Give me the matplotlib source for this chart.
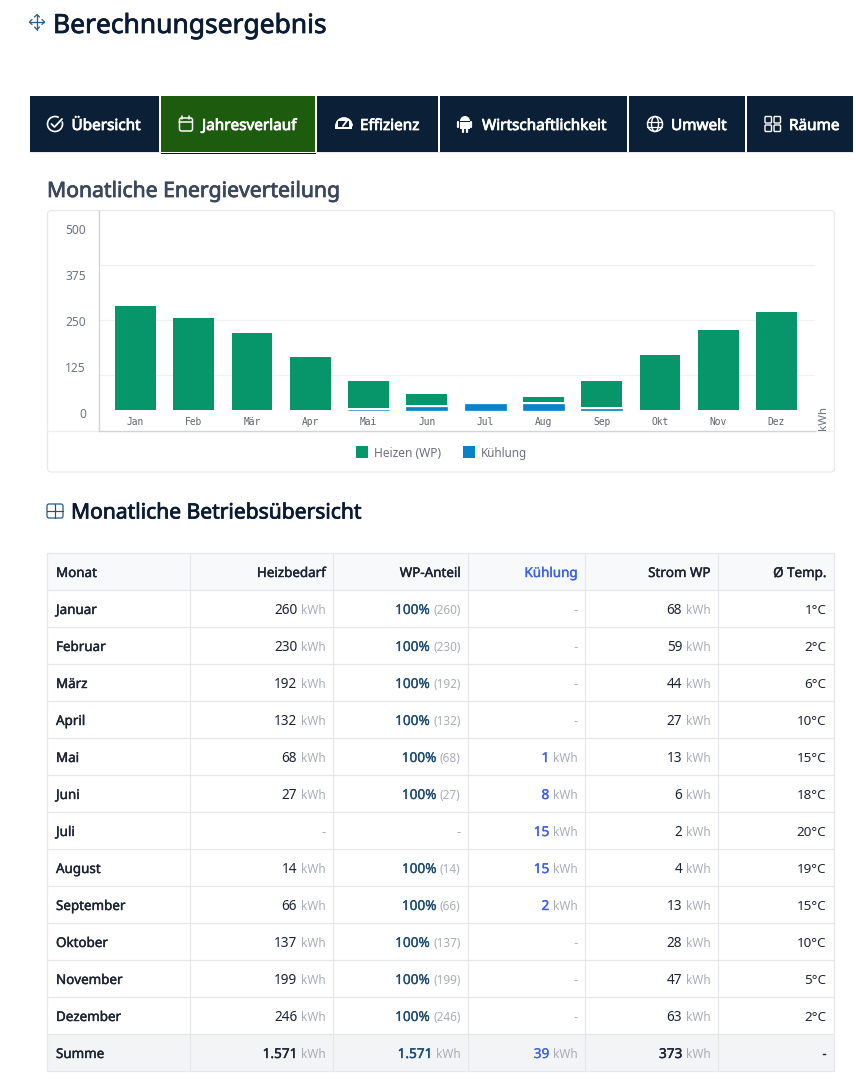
import matplotlib
matplotlib.use("Agg")
import matplotlib.pyplot as plt
import matplotlib.patheffects as pe
from matplotlib.patches import Rectangle, FancyBboxPatch, Circle, Ellipse, Wedge, Arc

W, H = 856, 1079
FONT = "Noto Sans"

month_short = ["Jan", "Feb", "Mär", "Apr", "Mai", "Jun", "Jul", "Aug", "Sep", "Okt", "Nov", "Dez"]
month_long = ["Januar", "Februar", "März", "April", "Mai", "Juni", "Juli", "August", "September",
              "Oktober", "November", "Dezember"]
heizen = [260, 230, 192, 132, 68, 27, 0, 14, 66, 137, 199, 246]
kuehlung = [0, 0, 0, 0, 1, 8, 15, 15, 2, 0, 0, 0]
strom = [68, 59, 44, 27, 13, 6, 2, 4, 13, 28, 47, 63]
temp = [1, 2, 6, 10, 15, 18, 20, 19, 15, 10, 5, 2]
y_labels = ["500", "375", "250", "125", "0"]
headers = ["Monat", "Heizbedarf", "WP-Anteil", "Kühlung", "Strom WP", "Ø Temp."]
tabs = ["Übersicht", "Jahresverlauf", "Effizienz", "Wirtschaftlichkeit", "Umwelt", "Räume"]
summe = ["Summe", "1.571", "1.571", "39", "373", "-"]

NAVY = "#0b2036"
GREEN = "#07966a"
BLUE = "#0a82c8"
BORDER = "#e5e7eb"
TEXT = "#1c2433"
UNIT = "#a9adb5"
KBLUE = "#3f62e0"
ANTEIL = "#1b4a6e"

# Noto Sans gibt es nur regular/bold, Zwischenstufen per Kontur
STROKE = {"medium": 0.18, "semibold": 0.3, "heading": 0.55}

fig = plt.figure(figsize=(W / 100, H / 100), dpi=100, facecolor="white")
page = fig.add_axes([0, 0, 1, 1], zorder=0)
page.set_xlim(0, W)
page.set_ylim(H, 0)
page.axis("off")


def px(size):
    return size * 0.72


def label(x, y, s, size=13.4, color=TEXT, weight="normal", ha="left", **kw):
    t = page.text(x, y, s, fontsize=px(size), color=color, ha=ha, va="baseline", family=FONT, **kw)
    if weight in STROKE:
        t.set_path_effects([pe.withStroke(linewidth=STROKE[weight], foreground=color)])
    return t


def line(xs, ys, color, lw=1.0, **kw):
    page.plot(xs, ys, color=color, lw=lw * 0.72, solid_capstyle="round", **kw)


def rrect(x0, y0, x1, y1, r, ec, fc="none", lw=1.5, z=3):
    page.add_patch(FancyBboxPatch((x0 + r, y0 + r), x1 - x0 - 2 * r, y1 - y0 - 2 * r,
                                  boxstyle=f"round,pad={r},rounding_size={r}",
                                  ec=ec, fc=fc, lw=lw * 0.72, zorder=z))


def icon_move(cx, cy, c):
    line([cx - 7.5, cx + 7.5], [cy, cy], c, 1.3)
    line([cx, cx], [cy - 7.5, cy + 7.5], c, 1.3)
    for sx, sy in ((1, 0), (-1, 0), (0, 1), (0, -1)):
        tipx, tipy = cx + sx * 7.5, cy + sy * 7.5
        line([tipx - sx * 2.5 - sy * 2.5, tipx, tipx - sx * 2.5 + sy * 2.5],
             [tipy - sy * 2.5 - sx * 2.5, tipy, tipy - sy * 2.5 + sx * 2.5], c, 1.3)


def icon_table(cx, cy, c):
    rrect(cx - 8, cy - 7, cx + 8, cy + 7, 2, c, lw=1.2)
    line([cx - 8, cx + 8], [cy, cy], c, 1.2)
    line([cx, cx], [cy - 7, cy + 7], c, 1.2)


def icon_check(cx, cy):
    page.add_patch(Arc((cx, cy), 15, 15, theta1=-20, theta2=300, ec="white", lw=1.2, zorder=3))
    line([cx - 3.5, cx - 0.5, cx + 7], [cy, cy + 3, cy - 5], "white", 1.8, zorder=4)


def icon_calendar(cx, cy):
    rrect(cx - 6.5, cy - 6, cx + 6.5, cy + 7, 2, "white")
    line([cx - 6.5, cx + 6.5], [cy - 2, cy - 2], "white", 1.5, zorder=4)
    line([cx - 3.5, cx - 3.5], [cy - 8, cy - 5], "white", 1.5, zorder=4)
    line([cx + 3.5, cx + 3.5], [cy - 8, cy - 5], "white", 1.5, zorder=4)


def icon_gauge(cx, cy):
    page.add_patch(Wedge((cx, cy + 3), 8.5, 180, 360, fc="white", ec="white", lw=0.5, zorder=3))
    page.add_patch(Rectangle((cx - 8.5, cy + 3), 17, 2.5, fc="white", ec="none", zorder=3))
    page.add_patch(Rectangle((cx - 5.5, cy - 2), 11, 6, fc=NAVY, ec="none", zorder=4))
    line([cx - 1, cx + 3.5], [cy + 3, cy - 3], "white", 1.8, zorder=5)


def icon_android(cx, cy):
    page.add_patch(Wedge((cx, cy - 3), 5, 180, 360, fc="white", ec="none", zorder=3))
    page.add_patch(Rectangle((cx - 5, cy - 2.2), 10, 7.5, fc="white", ec="none", zorder=3))
    for dx in (-6.5, 6.5):
        line([cx + dx, cx + dx], [cy - 2, cy + 3], "white", 2.2, zorder=3)
    for dx in (-2.3, 2.3):
        line([cx + dx, cx + dx], [cy + 5, cy + 7.5], "white", 2.2, zorder=3)


def icon_globe(cx, cy):
    page.add_patch(Circle((cx, cy), 7.5, fc="none", ec="white", lw=1.1, zorder=3))
    page.add_patch(Ellipse((cx, cy), 7, 15, fc="none", ec="white", lw=1.0, zorder=3))
    line([cx - 7.5, cx + 7.5], [cy - 2, cy - 2], "white", 1.2, zorder=3)
    line([cx - 7.5, cx + 7.5], [cy + 2.5, cy + 2.5], "white", 1.2, zorder=3)


def icon_grid(cx, cy):
    for dx in (-8, 1):
        for dy in (-7.5, 1):
            rrect(cx + dx, cy + dy, cx + dx + 6.5, cy + dy + 6.5, 1, "white", lw=1.4)


# Kopfbereich
icon_move(37, 22, "#2a5f8a")
label(53, 33, "Berechnungsergebnis", size=26.4, color="#0b1b33", weight="heading")

# Tabs
tab_x = [(30, 159), (161, 315), (317, 438), (440, 627), (629, 745), (747, 853)]
tab_text_x = [71.5, 202, 360, 482, 671, 789]
page.add_patch(Rectangle((30, 152), 824, 1.4, fc="#e8ecf2", ec="none", zorder=1))
for i, (name, (x0, x1)) in enumerate(zip(tabs, tab_x)):
    fc = "#1d5c0f" if i == 1 else NAVY
    page.add_patch(Rectangle((x0, 96), x1 - x0, 56, fc=fc, ec="none", zorder=2))
    label(tab_text_x[i], 130, name, size=15.3, color="white", weight="heading", zorder=3)
page.add_patch(Rectangle((161, 152), 155, 1, fc="white", ec="none", zorder=3))
page.add_patch(Rectangle((161, 153), 155, 1, fc="#111111", ec="none", zorder=3))
icon_check(55, 124)
icon_calendar(186, 124)
icon_gauge(344, 123)
icon_android(465, 124)
icon_globe(655, 124)
icon_grid(773, 124)

# Diagramm-Karte
label(47, 197, "Monatliche Energieverteilung", size=21.15, color="#3a475c", weight="heading")
rrect(47.5, 210.5, 834.5, 472, 4, "#e8e9ee", fc="white", lw=1.2, z=1)
line([47.5, 99], [431, 431], "#efeff3", 1.2, zorder=2)
line([815, 834.5], [431, 431], "#efeff3", 1.2, zorder=2)

plot_l, plot_r, plot_t, plot_b = 98.5, 814.5, 210.5, 430.5
ax = fig.add_axes([plot_l / W, 1 - plot_b / H, (plot_r - plot_l) / W, (plot_b - plot_t) / H], zorder=1)
ax.patch.set_visible(False)
# 0,4 px pro kWh, Nulllinie der Balken bei y=410
ax.set_ylim((410 - plot_b) / 0.4, (410 - plot_t) / 0.4)
ax.set_xlim((plot_l - 135.5) / 58.27, (plot_r - 135.5) / 58.27)
for s in ("top", "right"):
    ax.spines[s].set_visible(False)
for s in ("left", "bottom"):
    ax.spines[s].set_color("#d3d3de")
    ax.spines[s].set_linewidth(1.0)
for py in (265, 320, 374.5):
    ax.axhline((410 - py) / 0.4, color="#f1f1f4", lw=0.9, zorder=0)

gap = 4.5
xs = list(range(12))
bottoms = [k + gap if k else 0 for k in kuehlung]
ax.bar(xs, heizen, 0.7, bottom=bottoms, color=GREEN, lw=0, zorder=2)
cool_x = [x for x, k in zip(xs, kuehlung) if k]
cool_v = [k for k in kuehlung if k]
ax.bar(cool_x, cool_v, 0.7, color=BLUE, edgecolor=BLUE, lw=0.5, zorder=2)

ax.set_xticks(xs, month_short, family="DejaVu Sans Mono", fontsize=px(9.6), color="#5f636b")
ax.tick_params(axis="x", length=0, pad=-9.7)
ax.set_yticks([(410 - py) / 0.4 for py in (229, 275, 321, 367, 413)], y_labels,
              family=FONT, fontsize=px(12), color="#6b7588")
ax.tick_params(axis="y", length=0, pad=9)

page.text(823.5, 430, "kWh", rotation=90, fontsize=px(11.5), color="#6c7280", ha="center", va="bottom",
          family=FONT, zorder=3)

# Legende
page.add_patch(Rectangle((356, 446), 12, 12, fc=GREEN, ec="none", zorder=3))
label(374, 457, "Heizen (WP)", size=12, color="#6b7280")
page.add_patch(Rectangle((463, 446), 12, 12, fc=BLUE, ec="none", zorder=3))
label(481, 457, "Kühlung", size=11.7, color="#6b7280")

# Tabelle
icon_table(55, 511, "#1e5480")
label(71, 518.5, "Monatliche Betriebsübersicht", size=21.05, color="#0b1b33", weight="heading")

col_x = [47.5, 190.5, 333.5, 468.5, 585.5, 718.5, 834.5]
row_top, row_h = 553, 37
n_rows = 14
page.add_patch(Rectangle((col_x[0], row_top), col_x[-1] - col_x[0], row_h, fc="#f8f9fb", ec="none", zorder=1))
page.add_patch(Rectangle((col_x[0], row_top + 13 * row_h), col_x[-1] - col_x[0], row_h, fc="#f3f4f6", ec="none", zorder=1))
for r in range(n_rows + 1):
    line([col_x[0], col_x[-1]], [row_top + r * row_h] * 2, BORDER, 1.2, zorder=2)
for x in col_x:
    line([x, x], [row_top, row_top + n_rows * row_h], BORDER, 1.2, zorder=2)

renderer = fig.canvas.get_renderer()


def pair(right, y, value, unit, vcolor=TEXT, vweight="normal", usize=11.8):
    # Einheit rechtsbuendig, Wert davor
    t = label(right, y, unit, size=usize, color=UNIT, ha="right")
    left = page.transData.inverted().transform(t.get_window_extent(renderer))[0][0]
    label(left - 3.5, y, value, size=13.6, color=vcolor, weight=vweight, ha="right")


rights = [col_x[i + 1] - 8 for i in range(6)]
base = row_top + 24
label(col_x[0] + 8.5, base, headers[0], weight="semibold")
for j in range(1, 6):
    label(rights[j], base, headers[j], color=KBLUE if j == 3 else TEXT, weight="semibold", ha="right")

for i in range(12):
    y = row_top + (i + 1) * row_h + 24
    label(col_x[0] + 8.5, y, month_long[i], weight="semibold")
    if heizen[i]:
        pair(rights[1], y, str(heizen[i]), "kWh")
        pair(rights[2], y, "100%", f"({heizen[i]})", vcolor=ANTEIL, vweight="medium")
    else:
        label(rights[1], y, "-", color=UNIT, ha="right")
        label(rights[2], y, "-", color=UNIT, ha="right")
    if kuehlung[i]:
        pair(rights[3], y, str(kuehlung[i]), "kWh", vcolor=KBLUE, vweight="semibold")
    else:
        label(rights[3], y, "-", color=UNIT, ha="right")
    pair(rights[4], y, str(strom[i]), "kWh", vcolor=TEXT)
    label(rights[5], y, f"{temp[i]}°C", ha="right")

y = row_top + 13 * row_h + 24
label(col_x[0] + 8.5, y, summe[0], weight="semibold")
pair(rights[1], y, summe[1], "kWh", vweight="semibold")
pair(rights[2], y, summe[2], "kWh", vcolor=ANTEIL, vweight="semibold")
pair(rights[3], y, summe[3], "kWh", vcolor=KBLUE, vweight="medium")
pair(rights[4], y, summe[4], "kWh", vweight="semibold")
label(rights[5], y, summe[5], weight="semibold", ha="right")

fig.savefig("out.png", dpi=100)
